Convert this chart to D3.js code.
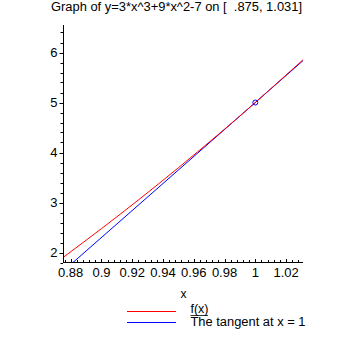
<!DOCTYPE html>
<html><head><meta charset="utf-8">
<script src="https://cdn.jsdelivr.net/npm/d3@7"></script>
<style>
html,body{margin:0;padding:0;background:#fff;}
svg text{font-family:"Liberation Sans",Arial,sans-serif;fill:#000;}
</style></head>
<body><svg id="c" width="355" height="355"></svg>
<script>
const titleText = "Graph of y=3*x^3+9*x^2-7 on [  .875, 1.031]";
const fx = [0.875, 0.9, 0.925, 0.95, 0.975, 1.0, 1.031];
const fy = [1.900, 2.477, 3.075, 3.695, 4.336, 5.0, 5.854];
const tx = [0.875, 1.031];
const ty = [1.625, 5.837];
const point = [1.0, 5.0];
const xTicks = [0.88, 0.9, 0.92, 0.94, 0.96, 0.98, 1.0, 1.02];
const xTickLabels = ["0.88", "0.9", "0.92", "0.94", "0.96", "0.98", "1", "1.02"];
const yTicks = [2, 3, 4, 5, 6];
const legendLabels = ["f(x)", "The tangent at x = 1"];
const colors = ["#ff0000", "#0000ff"];

const svg = d3.select("#c");
const x = d3.scaleLinear().domain([0.875, 1.031]).range([63, 303]);
const y = d3.scaleLinear().domain([1.8, 6.54]).range([262.5, 25.5]);

svg.append("text").attr("x", 176.5).attr("y", 10.5).attr("text-anchor", "middle")
  .style("white-space", "pre").attr("xml:space", "preserve")
  .attr("font-size", 12).attr("textLength", 251).attr("lengthAdjust", "spacingAndGlyphs").text(titleText);

svg.append("defs").append("clipPath").attr("id", "clip").append("rect")
  .attr("x", 63).attr("y", 25).attr("width", 241).attr("height", 237.5);

const g = svg.append("g").attr("clip-path", "url(#clip)");
const line = d3.line().x(d => x(d[0])).y(d => y(d[1])).curve(d3.curveNatural);
g.append("path").datum(tx.map((v, i) => [v, ty[i]])).attr("d", d3.line().x(d => x(d[0])).y(d => y(d[1])))
  .attr("fill", "none").attr("stroke", colors[1]).attr("stroke-width", 1);
g.append("path").datum(fx.map((v, i) => [v, fy[i]])).attr("d", line)
  .attr("fill", "none").attr("stroke", colors[0]).attr("stroke-width", 1);
g.append("circle").attr("cx", x(point[0])).attr("cy", y(point[1])).attr("r", 2.5)
  .attr("fill", "none").attr("stroke", colors[1]).attr("stroke-width", 1);

// Axes lines
svg.append("line").attr("x1", 63.5).attr("x2", 63.5).attr("y1", 25).attr("y2", 263).attr("stroke", "#000");
svg.append("line").attr("x1", 63).attr("x2", 303).attr("y1", 262.5).attr("y2", 262.5).attr("stroke", "#000");

// Y ticks
const yMinor = d3.range(9, 33).map(k => k / 5);
svg.selectAll(".ymin").data(yMinor).enter().append("line")
  .attr("x1", 60.5).attr("x2", 63).attr("y1", d => Math.round(y(d)) + 0.5).attr("y2", d => Math.round(y(d)) + 0.5)
  .attr("stroke", "#000");
svg.selectAll(".ymaj").data(yTicks).enter().append("line")
  .attr("x1", 59.5).attr("x2", 63).attr("y1", d => Math.round(y(d)) + 0.5).attr("y2", d => Math.round(y(d)) + 0.5)
  .attr("stroke", "#000");
svg.selectAll(".ylab").data(yTicks).enter().append("text")
  .attr("x", 57.5).attr("y", d => y(d) + 4.5).attr("text-anchor", "end").attr("font-size", 13).text(d => d);

// X ticks
const xMinor = d3.range(219, 258).map(k => k * 0.004);
svg.selectAll(".xmin").data(xMinor).enter().append("line")
  .attr("x1", d => Math.round(x(d)) + 0.5).attr("x2", d => Math.round(x(d)) + 0.5).attr("y1", 260).attr("y2", 262.5)
  .attr("stroke", "#000");
svg.selectAll(".xmaj").data(xTicks).enter().append("line")
  .attr("x1", d => Math.round(x(d)) + 0.5).attr("x2", d => Math.round(x(d)) + 0.5).attr("y1", 259).attr("y2", 262.5)
  .attr("stroke", "#000");
svg.selectAll(".xlab").data(xTicks).enter().append("text")
  .attr("x", d => x(d)).attr("y", 277).attr("text-anchor", "middle").attr("font-size", 13)
  .text((d, i) => xTickLabels[i]);

svg.append("text").attr("x", 183.5).attr("y", 298).attr("text-anchor", "middle").attr("font-size", 12).text("x");

// Legend
const ly = [311, 322];
legendLabels.forEach((lab, i) => {
  svg.append("line").attr("x1", 127).attr("x2", 176).attr("y1", ly[i] + 0.5).attr("y2", ly[i] + 0.5)
    .attr("stroke", colors[i]).attr("stroke-width", 1);
});
svg.append("text").attr("x", 190.5).attr("y", 313).attr("font-size", 12)
  .attr("textLength", 18).attr("lengthAdjust", "spacingAndGlyphs").text(legendLabels[0]);
svg.append("line").attr("x1", 190.5).attr("x2", 208).attr("y1", 315.5).attr("y2", 315.5).attr("stroke", "#000").attr("stroke-width", 0.8);
svg.append("text").attr("x", 190.5).attr("y", 326).attr("font-size", 12.5)
  .attr("textLength", 115).attr("lengthAdjust", "spacingAndGlyphs").text(legendLabels[1]);
</script></body></html>
